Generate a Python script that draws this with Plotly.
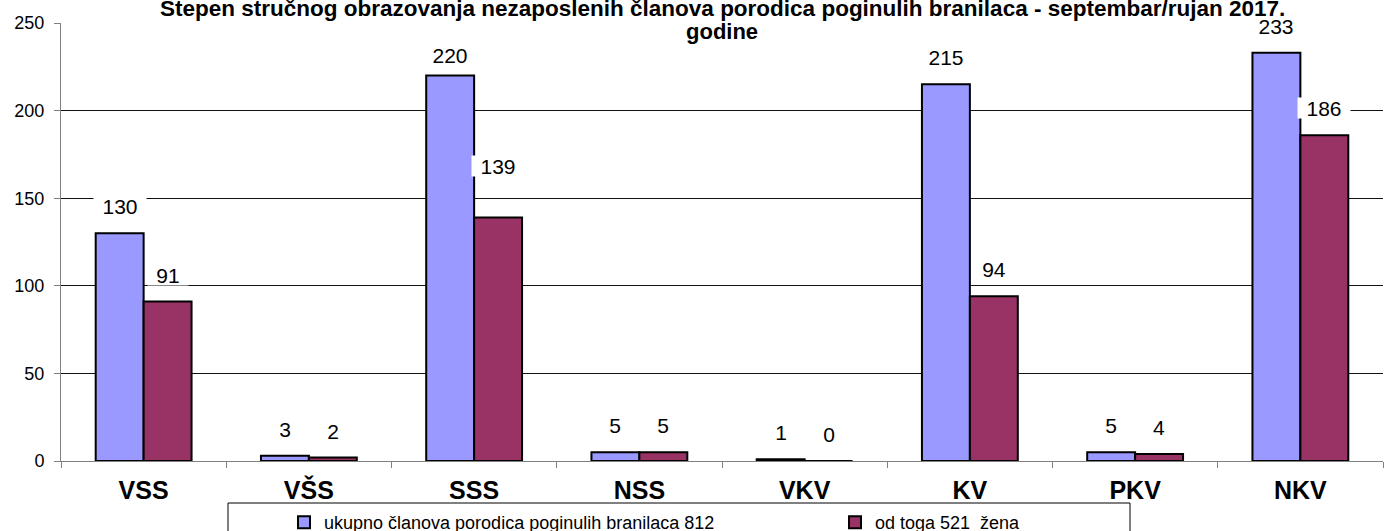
import plotly.graph_objects as go

categories = ["VSS", "VŠS", "SSS", "NSS", "VKV", "KV", "PKV", "NKV"]
ukupno = [130, 3, 220, 5, 1, 215, 5, 233]
zene = [91, 2, 139, 5, 0, 94, 4, 186]
series_names = ["ukupno članova porodica poginulih branilaca 812", "od toga 521  žena"]
title_line1 = "Stepen stručnog obrazovanja nezaposlenih članova porodica poginulih branilaca - septembar/rujan 2017."
title_line2 = "godine"
y_ticks = [0, 50, 100, 150, 200, 250]

BLUE = "#9999FF"
RED = "#993366"
FONT = "Liberation Sans, Arial"

W, H = 1393, 531
L, T, R = 61, 23, 10
B = H - 461
PW, PH = W - L - R, H - T - B


def py(pix):
    """page pixel row -> paper y"""
    return (461 - pix) / PH


def px(pix):
    """page pixel column -> paper x"""
    return (pix - 61) / PW


fig = go.Figure()
fig.add_trace(go.Bar(x=categories, y=ukupno, name=series_names[0],
                     marker=dict(color=BLUE, line=dict(color="black", width=2))))
fig.add_trace(go.Bar(x=categories, y=zene, name=series_names[1],
                     marker=dict(color=RED, line=dict(color="black", width=2))))

# label nudges (pixels) where the reference moved a data label
label_nudge = {("zene", "SSS"): 24, ("ukupno", "SSS"): -6}

annotations = []
for i, cat in enumerate(categories):
    for key, vals, shift in (("ukupno", ukupno, -24), ("zene", zene, 24)):
        v = vals[i]
        annotations.append(dict(
            x=cat, y=v, xref="x", yref="y", text=str(v), showarrow=False,
            xshift=shift, yshift=16 + label_nudge.get((key, cat), 0), yanchor="bottom",
            font=dict(family=FONT, size=21, color="black"),
            bgcolor="white", borderpad=0, height=20, width=len(str(v)) * 12 + 16,
        ))

annotations.append(dict(text="<b>" + title_line1 + "</b>", xref="paper", yref="paper",
                        x=0.5, y=py(8.5), yanchor="middle", showarrow=False,
                        font=dict(family=FONT, size=22.5, color="black")))
annotations.append(dict(text="<b>" + title_line2 + "</b>", xref="paper", yref="paper",
                        x=0.5, y=py(32), yanchor="middle", showarrow=False,
                        font=dict(family=FONT, size=22, color="black")))
fig.update_layout(annotations=annotations)

fig.add_shape(type="rect", xref="paper", yref="paper",
              x0=px(228), x1=px(1130), y0=py(503), y1=py(560),
              line=dict(color="black", width=1), fillcolor="rgba(0,0,0,0)", layer="above")

fig.update_layout(
    width=W, height=H,
    margin=dict(l=L, r=R, t=T, b=B, autoexpand=False),
    paper_bgcolor="white", plot_bgcolor="white",
    barmode="group", bargap=0.42, bargroupgap=0,
    font=dict(family=FONT, color="black"),
    showlegend=True,
    legend=dict(orientation="h", x=px(284), xanchor="left",
                y=py(504), yanchor="top",
                entrywidth=506, entrywidthmode="pixels",
                font=dict(size=18, color="black"),
                bgcolor="rgba(0,0,0,0)", borderwidth=0, traceorder="normal"),
    xaxis=dict(showline=True, linecolor="#808080", linewidth=1,
               ticks="outside", ticklen=6, tickcolor="#808080", tickson="boundaries",
               ticklabelstandoff=7,
               tickfont=dict(size=25, family=FONT, color="black"),
               tickprefix="<b>", ticksuffix="</b>", showgrid=False),
    yaxis=dict(range=[0, 250], tickvals=y_ticks, showline=True, linecolor="#808080", linewidth=1,
               ticks="outside", ticklen=6, tickcolor="#808080", ticklabelstandoff=6,
               showgrid=True, gridcolor="#111111", gridwidth=1, zeroline=False,
               tickfont=dict(size=18, family=FONT, color="black")),
)

# remove the default page margin so the figure fills the window exactly; hide the modebar
fig.write_html("out.html", config={"displayModeBar": False},
               post_script="document.body.style.margin='0';document.body.style.overflow='hidden';")
